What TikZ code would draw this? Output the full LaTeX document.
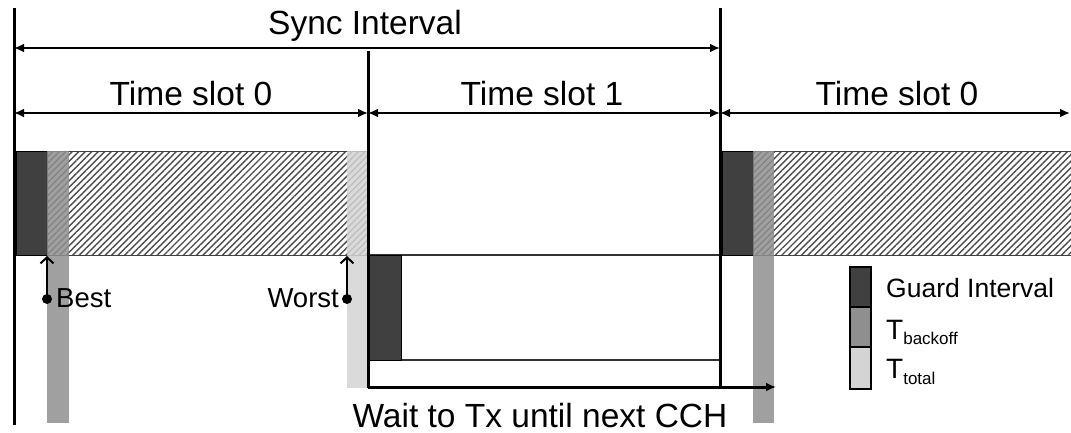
\documentclass[tikz,border=0pt]{standalone}
\usepackage{fontspec}
\setmainfont{Liberation Sans}
\usetikzlibrary{arrows.meta,patterns.meta}
\definecolor{gdark}{HTML}{404040}
\definecolor{gmed}{HTML}{8F8F8F}
\definecolor{glight}{HTML}{D4D4D4}
\begin{document}
\begin{tikzpicture}[x=1pt,y=-1pt,
  thickline/.style={line width=3pt},
  dimarrow/.style={line width=2pt,{Latex[length=10pt,width=9pt]}-{Latex[length=10pt,width=9pt]}},
  bigtext/.style={font=\fontsize{33.5}{36}\selectfont,inner sep=0pt},
  midtext/.style={font=\fontsize{27.5}{30}\selectfont,inner sep=0pt},
  legtext/.style={font=\fontsize{26.5}{30}\selectfont,inner sep=0pt},
  hatch/.style={pattern={Lines[angle=45,distance=4.6pt,line width=1.4pt]},pattern color=black!70},
  guardbox/.style={fill=gdark,draw=black,line width=0.8pt},
  backoffbar/.style={fill=gmed,fill opacity=0.85},
  totalbar/.style={fill=glight,fill opacity=0.85},
  bandline/.style={line width=1pt,black!75},
  marker/.style={line width=2pt,-{Straight Barb[length=6pt,width=13pt]}}
]
\useasboundingbox (0,0) rectangle (1071,432);

% coordinates
\coordinate (L0top) at (14,8);   \coordinate (L0bot) at (14,425);
\coordinate (L1top) at (368,51); \coordinate (L1bot) at (368,388);
\coordinate (L2top) at (720,8);  \coordinate (L2bot) at (720,388);

% ---- slot 0 band
\fill[hatch] (47,151) rectangle (368,255);
\draw[bandline] (14,151) -- (368,151);
\draw[bandline] (14,255) -- (368,255);
\draw[guardbox] (16,151) rectangle (47,255);
\fill[backoffbar] (47,151) rectangle (69,423);
\fill[totalbar] (347,151) rectangle (367,388);

% ---- slot 0 (next) band
\fill[hatch] (753,151) rectangle (1071,255);
\draw[bandline] (720,151) -- (1071,151);
\draw[bandline] (720,255) -- (1071,255);
\draw[guardbox] (722,151) rectangle (753,255);
\fill[backoffbar] (753,151) rectangle (774,423);

% ---- slot 1 lower box
\draw[line width=1.2pt,black!80] (368,255) rectangle (720,360);
\draw[guardbox] (369,255) rectangle (401,360);
\coordinate (waitstart) at (368,387);
\coordinate (waitend) at (776,387);
\draw[line width=3pt,-{Latex[length=10pt,width=9pt]}] (waitstart) -- (waitend);

% ---- vertical lines
\draw[thickline] (L0top) -- (L0bot);
\draw[thickline] (L1top) -- (L1bot);
\draw[thickline] (L2top) -- (L2bot);

% ---- dimension arrows
\coordinate (s0) at (14,48);  \coordinate (s1) at (720,48);
\draw[dimarrow] (s0) -- (s1);
\coordinate (t0) at (14,113); \coordinate (t1) at (368,113);
\coordinate (t2) at (720,113); \coordinate (t3) at (1070,113);
\draw[dimarrow] (t0) -- (t1);
\draw[dimarrow] (t1) -- (t2);
\draw[dimarrow] (t2) -- (t3);

\node[bigtext,anchor=base] (sync) at (365,34) {Sync Interval};
\node[bigtext,anchor=base] (ts0) at (191,105) {Time slot 0};
\node[bigtext,anchor=base] (ts1) at (542,105) {Time slot 1};
\node[bigtext,anchor=base] (ts2) at (897,105) {Time slot 0};
\node[bigtext,anchor=base] (wait) at (540,427) {Wait to Tx until next CCH};

% ---- best / worst markers
\coordinate (bestdot) at (47,299); \coordinate (besttip) at (47,256);
\coordinate (worstdot) at (347,299); \coordinate (worsttip) at (347,256);
\draw[marker] (bestdot) -- (besttip);
\draw[marker] (worstdot) -- (worsttip);
\fill (bestdot) circle (5pt);
\fill (worstdot) circle (5pt);
\node[midtext,anchor=base west] (best) at (56,307) {Best};
\node[midtext,anchor=base east] (worst) at (339,307) {Worst};

% ---- legend
\draw[guardbox,line width=1.2pt] (850,267) rectangle (871,307);
\draw[fill=gmed,draw=black,line width=1.2pt] (850,307) rectangle (871,347);
\draw[fill=glight,draw=black,line width=1.2pt] (850,347) rectangle (871,389);
\node[legtext,anchor=base west] (lg1) at (886,297) {Guard Interval};
\node[inner sep=0pt,anchor=base west,font=\fontsize{28}{30}\selectfont] (lg2) at (886,339)
  {T\raisebox{-5.5pt}{\fontsize{17}{18}\selectfont backoff}};
\node[inner sep=0pt,anchor=base west,font=\fontsize{28}{30}\selectfont] (lg3) at (886,378)
  {T\raisebox{-6.5pt}{\fontsize{17}{18}\selectfont total}};
\end{tikzpicture}
\end{document}
